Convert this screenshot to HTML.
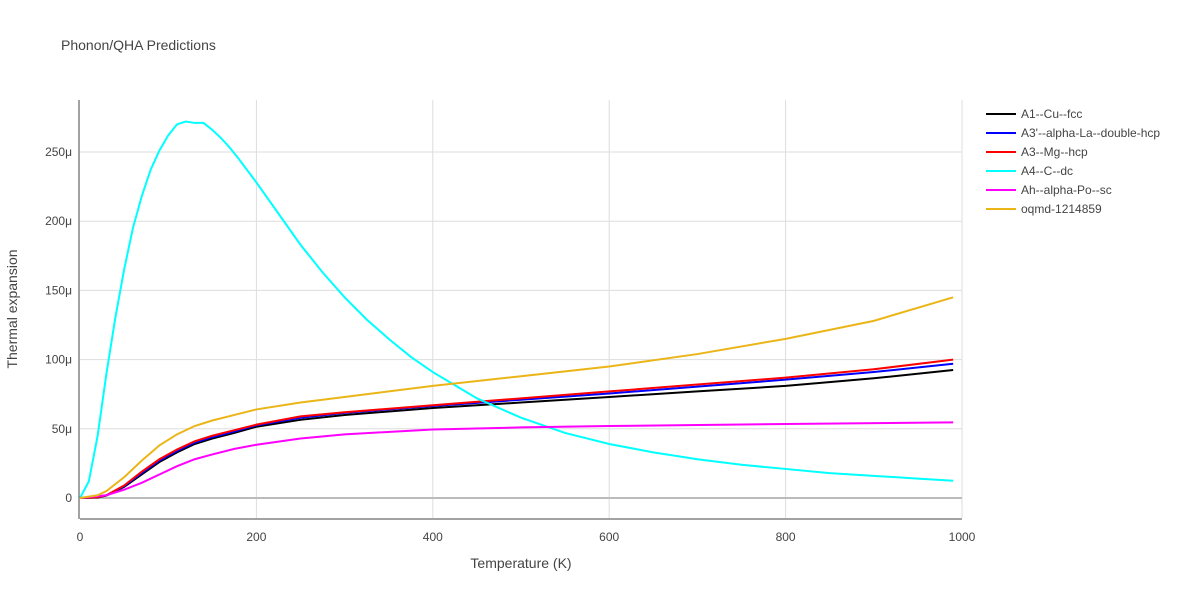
<!DOCTYPE html>
<html><head><meta charset="utf-8"><style>
body{margin:0;background:#fff;font-family:"Liberation Sans",sans-serif;}
svg text{font-family:"Liberation Sans",sans-serif;fill:#444;}
</style></head><body>
<svg id="chart" width="1200" height="600">
<rect width="1200" height="600" fill="#fff"/>
<text x="61" y="50" font-size="14" fill="#444">Phonon/QHA Predictions</text>
<g id="grid"></g>
<g id="series"></g>
<g id="legend"></g>
<text x="521" y="568" font-size="14" text-anchor="middle">Temperature (K)</text>
<text transform="translate(17,309) rotate(-90)" font-size="14" text-anchor="middle">Thermal expansion</text>
</svg>
<script>
const xTicks=[0,200,400,600,800,1000];
const yTicks=[0,50,100,150,200,250];
const seriesNames=["A1--Cu--fcc","A3'--alpha-La--double-hcp","A3--Mg--hcp","A4--C--dc","Ah--alpha-Po--sc","oqmd-1214859"];
const seriesColors=["#000000","#0000ff","#ff0000","#00ffff","#ff00ff","#ebb517"];
const blackT=[0,20,30,50,70,90,110,130,150,175,200,250,300,400,500,600,700,800,900,990];
const blackV=[0,0.4,1.8,8,17,26,33,39,43,47,51.5,56.5,60,65,69,73,77,81,86.5,92.5];
const blueT=[0,20,30,50,70,90,110,130,150,175,200,250,300,400,500,600,700,800,900,990];
const blueV=[0,0.5,2,8.5,18,27,34,40,44,48,52.5,58,61.5,66.5,71,75.5,80.5,85.5,91,97];
const redT=[0,20,30,50,70,90,110,130,150,175,200,250,300,400,500,600,700,800,900,990];
const redV=[0,0.5,2,9,19,28,35,41,45,49,53,59,62,67,72,77,82,87,93,100];
const cyanT=[0,10,20,30,40,50,60,70,80,90,100,110,120,130,140,150,160,170,180,200,220,250,275,300,325,350,375,400,450,500,550,600,650,700,750,800,850,900,950,990];
const cyanV=[0,12,45,90,130,165,195,218,237,251,262,270,272,271,271,266,260,253,245,228,210,183,163,145,129,115,102,91,72,58,47,39,33,28,24,21,18,16,14,12.5];
const magT=[0,30,50,70,90,110,130,150,175,200,250,300,400,500,600,800,990];
const magV=[0,2,6,11,17,23,28,31.5,35.5,38.5,43,46,49.5,51,52,53.5,54.6];
const yelT=[0,20,30,50,70,90,110,130,150,175,200,250,300,400,500,600,700,800,900,990];
const yelV=[0,2,5,15,27,38,46,52,56,60,64,69,73,81,88,95,104,115,128,145];
const allT=[blackT,blueT,redT,cyanT,magT,yelT];
const allV=[blackV,blueV,redV,cyanV,magV,yelV];
const X=t=>80+t*0.882;
const Y=v=>498-v*1.384;
const NS="http://www.w3.org/2000/svg";
const grid=document.getElementById('grid');
function mk(tag,attrs,parent){const e=document.createElementNS(NS,tag);for(const k in attrs)e.setAttribute(k,attrs[k]);parent.appendChild(e);return e;}
xTicks.forEach(t=>{
 if(t>0){const l=mk('line',{x1:X(t),x2:X(t),y1:100,y2:518,stroke:'#ddd'},grid);
 
 }
 const tx=mk('text',{x:X(t),y:541,'font-size':12,'text-anchor':'middle'},grid);tx.textContent=t;
 
 
});
yTicks.forEach(v=>{
 const l=mk('line',{x1:80,x2:962,y1:Y(v),y2:Y(v),stroke:v===0?'#bbb':'#ddd','stroke-width':v===0?2:1},grid);
 
 
 const tx=mk('text',{x:72,y:Y(v)+4,'font-size':12,'text-anchor':'end'},grid);tx.textContent=v===0?'0':v+'μ';
 
 
});
const ax=mk('line',{x1:80,x2:962,y1:519,y2:519,stroke:'#444'},grid);


const ay=mk('line',{x1:79,x2:79,y1:100,y2:519,stroke:'#444'},grid);


const sg=document.getElementById('series'),lg=document.getElementById('legend');
seriesNames.forEach((n,i)=>{
 const pts=allT[i].map((t,j)=>X(t)+','+Y(allV[i][j])).join(' ');
 const p=mk('polyline',{points:pts,fill:'none',stroke:seriesColors[i],'stroke-width':2},sg);
 
 
 const y=114+i*19;
 const g=mk('g',{},lg);
 
 
 mk('line',{x1:986,x2:1016,y1:y,y2:y,stroke:seriesColors[i],'stroke-width':2},g);
 const tx=mk('text',{x:1021,y:y+4,'font-size':12},g);tx.textContent=n;
});
</script>
</body></html>
